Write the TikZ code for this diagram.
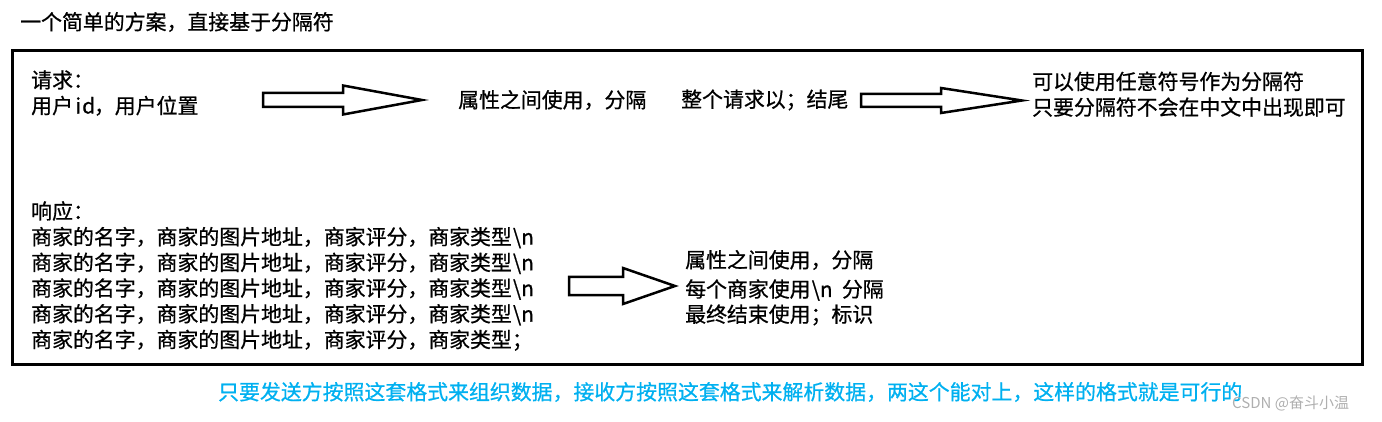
\documentclass[tikz,border=0pt]{standalone}
\usepackage{fontspec}
\setmainfont{Noto Sans CJK SC}[BoldFont={Noto Sans CJK SC}, BoldFeatures={FakeBold=0.7}]

\definecolor{noteblue}{RGB}{0,176,240}
\definecolor{markgray}{RGB}{175,175,175}

\tikzset{
	txt/.style={anchor=west, inner sep=0pt, align=left, font=\fontsize{20.9}{25.7}\selectfont\bfseries},
	hollow/.style={draw, line width=2.5pt, line join=miter, fill=white},
}
% half-width latin letter
\newcommand{\hw}[1]{\makebox[0.5em][c]{#1}}
\newcommand{\bsn}{\hw{\textbackslash}\hw{n}}
% hollow arrow: shaft start x, centre y, half shaft, head base x, half head, tip x
\newcommand{\hollowarrow}[6]{\draw[hollow] (#1,#2-#3) -- (#4,#2-#3) -- (#4,#2-#5) -- (#6,#2) -- (#4,#2+#5) -- (#4,#2+#3) -- (#1,#2+#3) -- cycle;}

\begin{document}
\begin{tikzpicture}[x=1pt, y=-1pt]
	\useasboundingbox (0,0) rectangle (1382,422);
	\node[txt] (title) at (20,22) {一个简单的方案，直接基于分隔符};
	\draw[line width=3pt] (12,50.5) rectangle (1362.5,364.5);

	% request
	\node[txt] (req) at (31,93) {请求：\\用户\hw{i}\hw{d}，用户位置};
	\hollowarrow{263}{100}{7}{343}{14.5}{422}
	\node[txt] (reqattr) at (458,100) {属性之间使用，分隔};
	\node[txt] (reqend) at (681,100) {整个请求以；结尾};
	\hollowarrow{861}{100.5}{6.5}{941}{12.5}{1022}
	\node[txt] (anysep) at (1032,94.2) {可以使用任意符号作为分隔符\\只要分隔符不会在中文中出现即可};

	% response
	\node[txt] (resp) at (31,276) {响应：\\
		商家的名字，商家的图片地址，商家评分，商家类型\bsn\\
		商家的名字，商家的图片地址，商家评分，商家类型\bsn\\
		商家的名字，商家的图片地址，商家评分，商家类型\bsn\\
		商家的名字，商家的图片地址，商家评分，商家类型\bsn\\
		商家的名字，商家的图片地址，商家评分，商家类型；};
	\hollowarrow{569}{286}{9}{623}{18}{675}
	\node[txt] (respattr) at (685,260) {属性之间使用，分隔};
	\node[txt] (respshop) at (685,290) {每个商家使用\bsn\hw{ }分隔};
	\node[txt] (respend) at (685,315) {最终结束使用；标识};

	\node[txt, text=noteblue] (summary) at (218,392) {只要发送方按照这套格式来组织数据，接收方按照这套格式来解析数据，两这个能对上，这样的格式就是可行的};
	\node[txt, text=markgray, font=\fontsize{15}{18}\selectfont] (mark) at (1232,403) {CSDN @奋斗小温};
\end{tikzpicture}
\end{document}
